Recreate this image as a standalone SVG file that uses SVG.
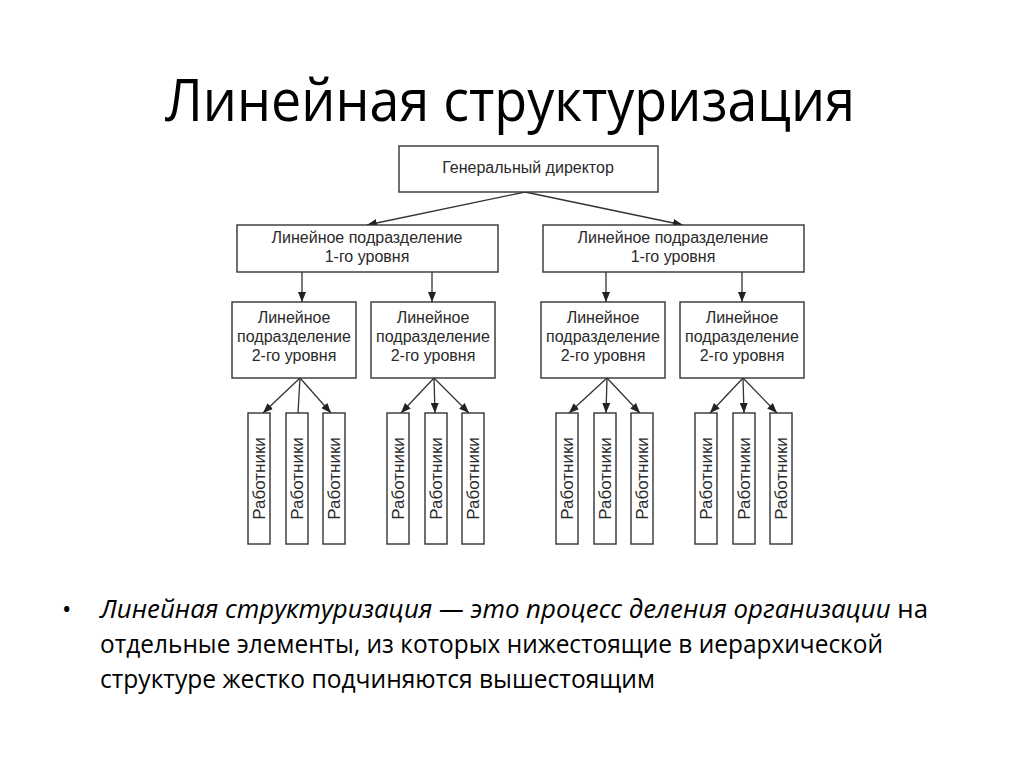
<svg xmlns="http://www.w3.org/2000/svg" width="1024" height="768" viewBox="0 0 1024 768">
<style>
.box{fill:#fff;stroke:#333;stroke-width:1.4}
.t{font-family:"Liberation Sans",Arial,sans-serif;font-size:16px;fill:#2a2a2a;text-anchor:middle}
.w{font-size:17px}
.c{stroke:#333;stroke-width:1.3;fill:none}
.title{font-family:"Open Sans","Noto Sans",sans-serif;font-size:58px;fill:#000}
.body{font-family:"Open Sans","Noto Sans",sans-serif;font-size:25px;fill:#000}
</style>
<defs>
<marker id="ah" markerUnits="userSpaceOnUse" markerWidth="10" markerHeight="8" refX="10" refY="4" orient="auto">
<path d="M0,0 L10,4 L0,8 z" fill="#222"/>
</marker>
</defs>
<rect width="1024" height="768" fill="#fff"/>
<text class="title" x="165" y="121" textLength="690" lengthAdjust="spacingAndGlyphs">Линейная структуризация</text>

<g id="connectors">
<path class="c" marker-end="url(#ah)" d="M525,192 L367,225"/>
<path class="c" marker-end="url(#ah)" d="M525,192 L683,225"/>
<path class="c" marker-end="url(#ah)" d="M302,272 L302,302"/>
<path class="c" marker-end="url(#ah)" d="M432,272 L432,302"/>
<path class="c" marker-end="url(#ah)" d="M606,272 L606,302"/>
<path class="c" marker-end="url(#ah)" d="M742,272 L742,302"/>
<path class="c" marker-end="url(#ah)" d="M300,378 L263,413"/>
<path class="c" d="M300,378 L298,413"/>
<path class="c" marker-end="url(#ah)" d="M300,378 L331,413"/>
<path class="c" marker-end="url(#ah)" d="M434,378 L401,413"/>
<path class="c" marker-end="url(#ah)" d="M434,378 L435,413"/>
<path class="c" marker-end="url(#ah)" d="M434,378 L469,413"/>
<path class="c" marker-end="url(#ah)" d="M607,378 L569,413"/>
<path class="c" marker-end="url(#ah)" d="M607,378 L606,413"/>
<path class="c" marker-end="url(#ah)" d="M607,378 L640,413"/>
<path class="c" marker-end="url(#ah)" d="M743,378 L710,413"/>
<path class="c" marker-end="url(#ah)" d="M743,378 L744,413"/>
<path class="c" marker-end="url(#ah)" d="M743,378 L777,413"/>
</g>

<g id="gd"><rect class="box" x="399" y="146" width="259" height="46"/><text class="t" x="528" y="173">Генеральный директор</text></g>

<g id="l1a"><rect class="box" x="237" y="225" width="261" height="47"/><text class="t" x="367" y="243">Линейное подразделение</text><text class="t" x="367" y="262">1-го уровня</text></g>
<g id="l1b"><rect class="box" x="543" y="225" width="261" height="47"/><text class="t" x="673" y="243">Линейное подразделение</text><text class="t" x="673" y="262">1-го уровня</text></g>

<g id="l2a"><rect class="box" x="232" y="302" width="124" height="76"/><text class="t" x="294" y="323">Линейное</text><text class="t" x="294" y="342">подразделение</text><text class="t" x="294" y="361">2-го уровня</text></g>
<g id="l2b"><rect class="box" x="371" y="302" width="124" height="76"/><text class="t" x="433" y="323">Линейное</text><text class="t" x="433" y="342">подразделение</text><text class="t" x="433" y="361">2-го уровня</text></g>
<g id="l2c"><rect class="box" x="541" y="302" width="124" height="76"/><text class="t" x="603" y="323">Линейное</text><text class="t" x="603" y="342">подразделение</text><text class="t" x="603" y="361">2-го уровня</text></g>
<g id="l2d"><rect class="box" x="680" y="302" width="124" height="76"/><text class="t" x="742" y="323">Линейное</text><text class="t" x="742" y="342">подразделение</text><text class="t" x="742" y="361">2-го уровня</text></g>

<g id="w1"><rect class="box" x="248" y="413" width="22" height="131"/><text class="t w" transform="translate(265,478.5) rotate(-90)">Работники</text></g>
<g id="w2"><rect class="box" x="286" y="413" width="22" height="131"/><text class="t w" transform="translate(303,478.5) rotate(-90)">Работники</text></g>
<g id="w3"><rect class="box" x="323" y="413" width="22" height="131"/><text class="t w" transform="translate(340,478.5) rotate(-90)">Работники</text></g>
<g id="w4"><rect class="box" x="387" y="413" width="22" height="131"/><text class="t w" transform="translate(404,478.5) rotate(-90)">Работники</text></g>
<g id="w5"><rect class="box" x="425" y="413" width="22" height="131"/><text class="t w" transform="translate(442,478.5) rotate(-90)">Работники</text></g>
<g id="w6"><rect class="box" x="462" y="413" width="22" height="131"/><text class="t w" transform="translate(479,478.5) rotate(-90)">Работники</text></g>
<g id="w7"><rect class="box" x="556" y="413" width="22" height="131"/><text class="t w" transform="translate(573,478.5) rotate(-90)">Работники</text></g>
<g id="w8"><rect class="box" x="594" y="413" width="22" height="131"/><text class="t w" transform="translate(611,478.5) rotate(-90)">Работники</text></g>
<g id="w9"><rect class="box" x="631" y="413" width="22" height="131"/><text class="t w" transform="translate(648,478.5) rotate(-90)">Работники</text></g>
<g id="w10"><rect class="box" x="695" y="413" width="22" height="131"/><text class="t w" transform="translate(712,478.5) rotate(-90)">Работники</text></g>
<g id="w11"><rect class="box" x="733" y="413" width="22" height="131"/><text class="t w" transform="translate(750,478.5) rotate(-90)">Работники</text></g>
<g id="w12"><rect class="box" x="770" y="413" width="22" height="131"/><text class="t w" transform="translate(787,478.5) rotate(-90)">Работники</text></g>

<g id="bullet">
<text class="body" x="62" y="618">•</text>
<text class="body" x="100" y="618" textLength="828" lengthAdjust="spacingAndGlyphs"><tspan font-style="italic">Линейная структуризация — это процесс деления организации</tspan> на</text>
<text class="body" x="100" y="653" textLength="783" lengthAdjust="spacingAndGlyphs">отдельные элементы, из которых нижестоящие в иерархической</text>
<text class="body" x="100" y="688" textLength="555" lengthAdjust="spacingAndGlyphs">структуре жестко подчиняются вышестоящим</text>
</g>
</svg>
